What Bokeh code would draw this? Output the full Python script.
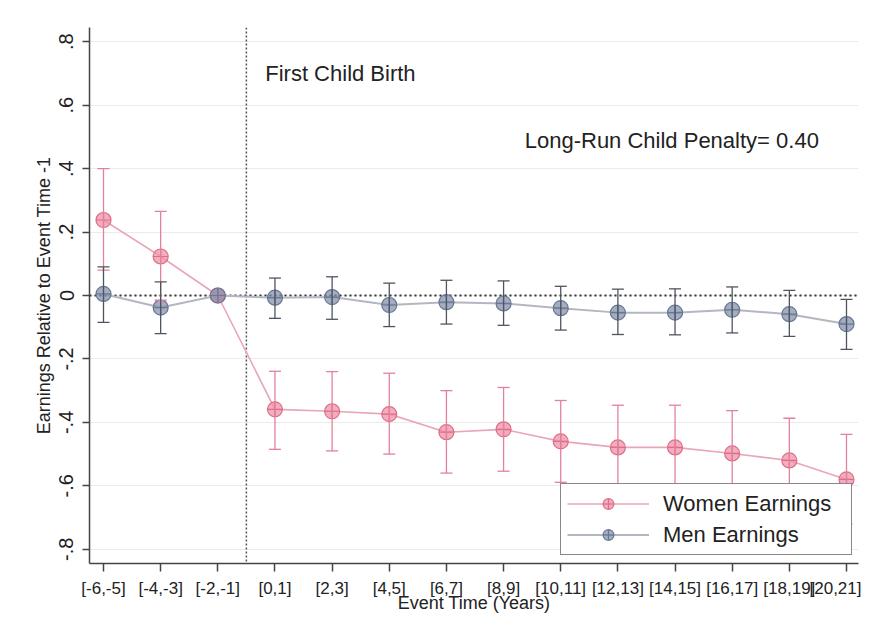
from bokeh.plotting import figure
from bokeh.models import (ColumnDataSource, Whisker, TeeHead, Span, Label,
                          Legend, LegendItem, FixedTicker, Range1d)
from bokeh.embed import file_html
from bokeh.resources import INLINE

# event-time bins
labels = ["[-6,-5]", "[-4,-3]", "[-2,-1]", "[0,1]", "[2,3]", "[4,5]", "[6,7]",
          "[8,9]", "[10,11]", "[12,13]", "[14,15]", "[16,17]", "[18,19]", "[20,21]"]

# women earnings + 95% CI
women = [0.238, 0.123, 0.0, -0.359, -0.365, -0.374, -0.431, -0.422,
         -0.46, -0.479, -0.479, -0.498, -0.52, -0.58]
women_hi = [0.40, 0.265, 0.0, -0.239, -0.24, -0.245, -0.30, -0.29,
            -0.331, -0.346, -0.346, -0.363, -0.387, -0.438]
women_lo = [0.08, -0.015, 0.0, -0.485, -0.49, -0.50, -0.56, -0.554,
            -0.589, -0.61, -0.61, -0.63, -0.65, -0.72]

# men earnings + 95% CI
men = [0.005, -0.038, 0.0, -0.007, -0.005, -0.03, -0.021, -0.025,
       -0.04, -0.054, -0.054, -0.045, -0.059, -0.09]
men_hi = [0.09, 0.043, 0.0, 0.055, 0.059, 0.039, 0.048, 0.046,
          0.029, 0.02, 0.021, 0.027, 0.016, -0.012]
men_lo = [-0.085, -0.12, 0.0, -0.072, -0.075, -0.098, -0.09, -0.094,
          -0.109, -0.123, -0.124, -0.118, -0.129, -0.17]

y_ticks = [-0.8, -0.6, -0.4, -0.2, 0.0, 0.2, 0.4, 0.6, 0.8]
y_tick_text = ["-.8", "-.6", "-.4", "-.2", "0", ".2", ".4", ".6", ".8"]

FONT = "Liberation Sans"
PINK = "#e3819b"
PINK_LINE = "#eaa6b7"
GRAY_LINE = "#b3b7bf"
MEN_FILL = "#7d8aa6"

x = list(range(len(labels)))

p = figure(width=861, height=621, output_backend="svg", toolbar_location=None,
           x_range=Range1d(-0.245, 13.21), y_range=Range1d(-0.845, 0.845),
           min_border_left=89, min_border_right=3, min_border_top=27,
           min_border_bottom=58)
p.outline_line_color = None
p.background_fill_color = "white"

# axes
p.xaxis.ticker = FixedTicker(ticks=x)
p.xaxis.major_label_overrides = {i: s for i, s in zip(x, labels)}
p.yaxis.ticker = FixedTicker(ticks=y_ticks)
p.yaxis.major_label_overrides = {t: s for t, s in zip(y_ticks, y_tick_text)}
p.yaxis.major_label_orientation = "parallel"
p.xaxis.axis_label = "Event Time (Years)"
p.yaxis.axis_label = "Earnings Relative to Event Time -1"
for ax in (p.xaxis, p.yaxis):
    ax.axis_line_color = "#444444"
    ax.axis_line_width = 1.5
    ax.major_tick_line_color = "#444444"
    ax.major_tick_line_width = 1.5
    ax.minor_tick_line_color = None
    ax.major_tick_in = 0
    ax.major_label_text_font = FONT
    ax.major_label_text_color = "#222222"
    ax.axis_label_text_font = FONT
    ax.axis_label_text_font_style = "normal"
    ax.axis_label_text_color = "#222222"
    ax.axis_label_text_font_size = "18px"
p.xaxis.major_tick_out = 8
p.xaxis.major_label_standoff = 7
p.xaxis.major_label_text_font_size = "17px"
p.xaxis.axis_label_standoff = -8
p.yaxis.major_tick_out = 7
p.yaxis.major_label_standoff = 9
p.yaxis.major_label_text_font_size = "20px"
p.yaxis.axis_label_standoff = 3

p.xgrid.grid_line_color = None
p.ygrid.grid_line_color = "#ebebeb"
p.ygrid.grid_line_width = 1

# reference lines
p.add_layout(Span(location=0, dimension="width", line_color="#333333",
                  line_width=2, line_dash="2 3", level="underlay"))
p.add_layout(Span(location=2.5, dimension="height", line_color="#555555",
                  line_width=1.5, line_dash="2 2", level="underlay"))

# confidence intervals (skip the normalised bin)
keep = [i for i in x if women_hi[i] != women_lo[i]]
w_src = ColumnDataSource(dict(x=[x[i] for i in keep],
                              hi=[women_hi[i] for i in keep],
                              lo=[women_lo[i] for i in keep]))
m_src = ColumnDataSource(dict(x=[x[i] for i in keep],
                              hi=[men_hi[i] for i in keep],
                              lo=[men_lo[i] for i in keep]))
p.add_layout(Whisker(source=w_src, base="x", upper="hi", lower="lo",
                     line_color=PINK, line_width=1.3,
                     upper_head=TeeHead(size=12, line_color=PINK, line_width=1.3),
                     lower_head=TeeHead(size=12, line_color=PINK, line_width=1.3),
                     level="glyph"))
p.add_layout(Whisker(source=m_src, base="x", upper="hi", lower="lo",
                     line_color="#4f5560", line_width=1.3,
                     upper_head=TeeHead(size=12, line_color="#4f5560", line_width=1.3),
                     lower_head=TeeHead(size=12, line_color="#4f5560", line_width=1.3),
                     level="glyph"))

src = ColumnDataSource(dict(x=x, women=women, men=men))
wl = p.line("x", "women", source=src, line_color=PINK_LINE, line_width=1.6)
ml = p.line("x", "men", source=src, line_color=GRAY_LINE, line_width=2)
wm = p.scatter("x", "women", source=src, marker="circle_cross", size=15,
               fill_color="#ef93a8", fill_alpha=0.75, line_color="#dd6d8b",
               line_width=1.2)
mm = p.scatter("x", "men", source=src, marker="circle_cross", size=15,
               fill_color=MEN_FILL, fill_alpha=0.7, line_color="#6a7893",
               line_width=1.2)

# text notes
p.add_layout(Label(x=2.83, y=0.70, text="First Child Birth", text_font=FONT,
                   text_font_size="22px", text_color="#222222",
                   text_baseline="middle"))
p.add_layout(Label(x=7.37, y=0.49, text="Long-Run Child Penalty= 0.40",
                   text_font=FONT, text_font_size="22px", text_color="#222222",
                   text_baseline="middle"))

legend = Legend(items=[LegendItem(label="Women Earnings", renderers=[wl, wm]),
                       LegendItem(label="Men Earnings", renderers=[ml, mm])],
                location=(471, 8), margin=0, padding=6, spacing=4,
                glyph_width=82, glyph_height=27, label_standoff=14,
                label_width=182, label_height=27,
                label_text_font=FONT, label_text_font_size="22px",
                label_text_color="#222222", border_line_color="#111111",
                border_line_width=1.5, background_fill_alpha=1.0)
p.add_layout(legend)

open("out.html", "w").write(file_html(p, INLINE))
